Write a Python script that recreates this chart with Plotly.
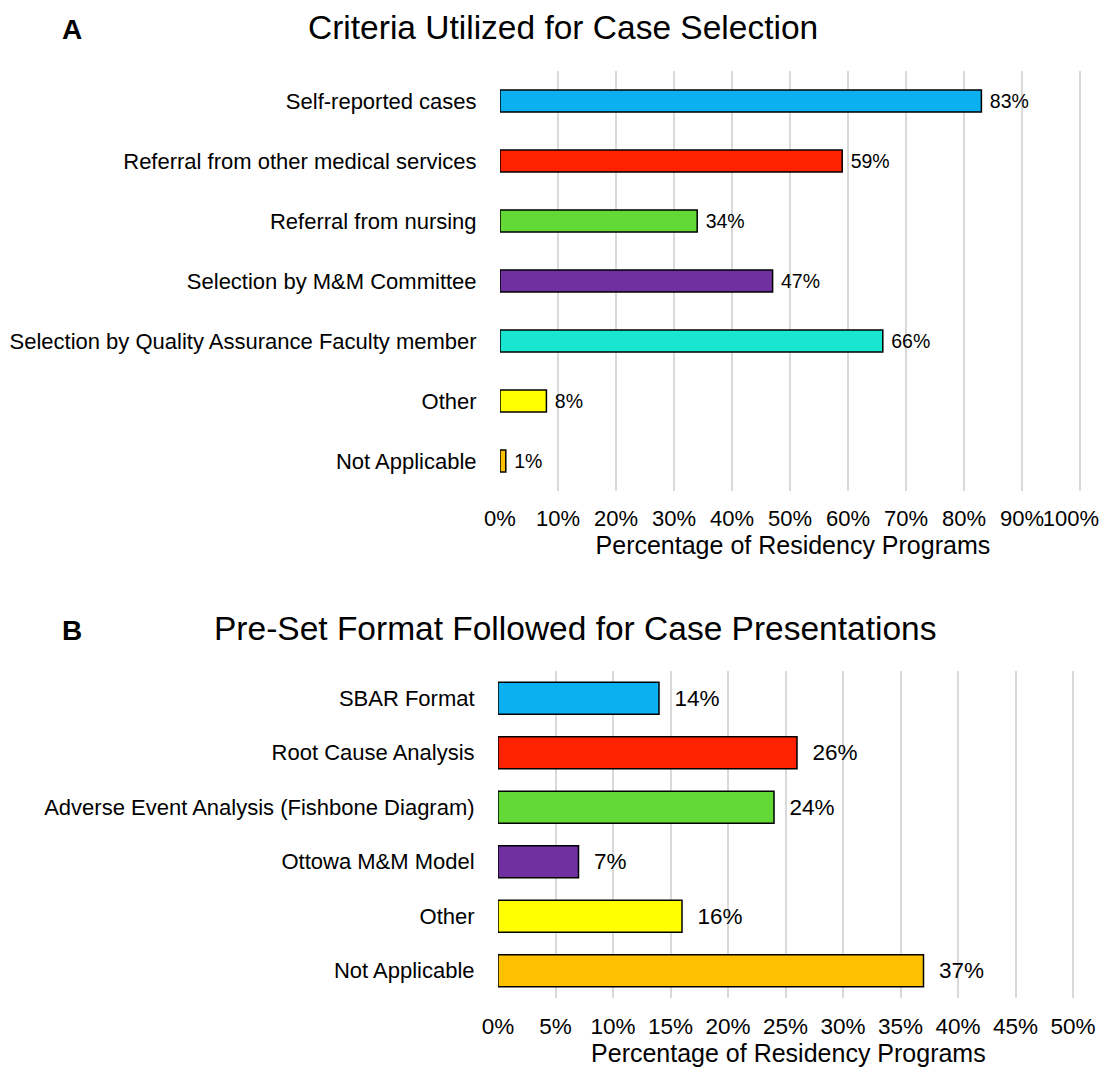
import plotly.graph_objects as go

# Panel A data
cats_a = ["Self-reported cases", "Referral from other medical services", "Referral from nursing",
          "Selection by M&M Committee", "Selection by Quality Assurance Faculty member",
          "Other", "Not Applicable"]
vals_a = [83, 59, 34, 47, 66, 8, 1]
colors_a = ["#0AB0F0", "#FF2200", "#62D936", "#7030A0", "#19E6D1", "#FFFF00", "#FFC000"]
ticks_a = [0, 10, 20, 30, 40, 50, 60, 70, 80, 90, 100]

# Panel B data
cats_b = ["SBAR Format", "Root Cause Analysis", "Adverse Event Analysis (Fishbone Diagram)",
          "Ottowa M&M Model", "Other", "Not Applicable"]
vals_b = [14, 26, 24, 7, 16, 37]
colors_b = ["#0AB0F0", "#FF2200", "#62D936", "#7030A0", "#FFFF00", "#FFC000"]
ticks_b = [0, 5, 10, 15, 20, 25, 30, 35, 40, 45, 50]

FONT = "Liberation Sans, Arial, sans-serif"
OFF = 8  # page body margin
W, H = 1109 - OFF, 1070 - OFF
EXT = 1.01  # small range extension so the last gridline is drawn
NB = "\u00a0"


def px(x):
    return (x - OFF) / W


def py(y):
    return 1 - (y - OFF) / H


# pixel positions of 0 and the last tick on each x axis
a0, a1 = 500, 1080
b0, b1 = 498, 1073

# keep the right-most label inside the visible window
ticktext_a = [f"{t}%" for t in ticks_a]
ticktext_a[-1] = ticktext_a[-1] + NB * 3
ticktext_b = [f"{t}%" for t in ticks_b]

fig = go.Figure()
fig.add_trace(go.Bar(
    x=vals_a, y=cats_a, orientation="h", marker=dict(color=colors_a, line=dict(color="black", width=1.5)),
    text=[f" {v}%" for v in vals_a], textposition="outside", cliponaxis=False,
    textfont=dict(size=19.5, color="black", family=FONT), xaxis="x", yaxis="y", showlegend=False,
    width=0.37,
))
fig.add_trace(go.Bar(
    x=vals_b, y=cats_b, orientation="h", marker=dict(color=colors_b, line=dict(color="black", width=1.5)),
    text=[f"  {v}%" for v in vals_b], textposition="outside", cliponaxis=False,
    textfont=dict(size=22.5, color="black", family=FONT), xaxis="x2", yaxis="y2", showlegend=False,
    width=0.59,
))

grid = "#D9D9D9"
fig.update_layout(
    width=W, height=H,
    margin=dict(l=0, r=0, t=0, b=0, autoexpand=False),
    paper_bgcolor="white", plot_bgcolor="white",
    font=dict(family=FONT, color="black"),
    xaxis=dict(domain=[px(a0), px(a0 + (a1 - a0) * EXT)], range=[0, ticks_a[-1] * EXT], tickvals=ticks_a,
               ticktext=ticktext_a, tickangle=0, showgrid=True, gridcolor=grid, gridwidth=2,
               zeroline=False, showline=False, ticks="outside", ticklen=8, tickcolor="rgba(0,0,0,0)",
               tickfont=dict(size=22), anchor="y", automargin=False, ticklabeloverflow="allow",
               title=dict(text="Percentage of Residency Programs", font=dict(size=25), standoff=5)),
    yaxis=dict(domain=[py(491), py(71)], autorange="reversed", showgrid=False,
               ticks="outside", ticklen=18, tickcolor="rgba(0,0,0,0)", tickfont=dict(size=22),
               anchor="x", showline=False, zeroline=False, automargin=False),
    xaxis2=dict(domain=[px(b0), px(b0 + (b1 - b0) * EXT)], range=[0, ticks_b[-1] * EXT], tickvals=ticks_b,
                ticktext=ticktext_b, tickangle=0, showgrid=True, gridcolor=grid, gridwidth=2,
                zeroline=False, showline=False, ticks="outside", ticklen=8, tickcolor="rgba(0,0,0,0)",
                tickfont=dict(size=22.5), anchor="y2", automargin=False, ticklabeloverflow="allow",
                title=dict(text="Percentage of Residency Programs", font=dict(size=25), standoff=5)),
    yaxis2=dict(domain=[py(998), py(671)], autorange="reversed", showgrid=False,
                ticks="outside", ticklen=18, tickcolor="rgba(0,0,0,0)", tickfont=dict(size=22),
                anchor="x2", showline=False, zeroline=False, automargin=False),
    annotations=[
        dict(text="<b>A</b>", x=px(72), y=py(30), xref="paper", yref="paper",
             showarrow=False, font=dict(size=28), xanchor="center", yanchor="middle"),
        dict(text="Criteria Utilized for Case Selection", x=px(563), y=py(28), xref="paper",
             yref="paper", showarrow=False, font=dict(size=33.5), xanchor="center", yanchor="middle"),
        dict(text="<b>B</b>", x=px(72), y=py(630), xref="paper", yref="paper",
             showarrow=False, font=dict(size=28), xanchor="center", yanchor="middle"),
        dict(text="Pre-Set Format Followed for Case Presentations", x=px(575), y=py(628),
             xref="paper", yref="paper", showarrow=False, font=dict(size=33.5),
             xanchor="center", yanchor="middle"),
    ],
)

fig.write_html("out.html")
